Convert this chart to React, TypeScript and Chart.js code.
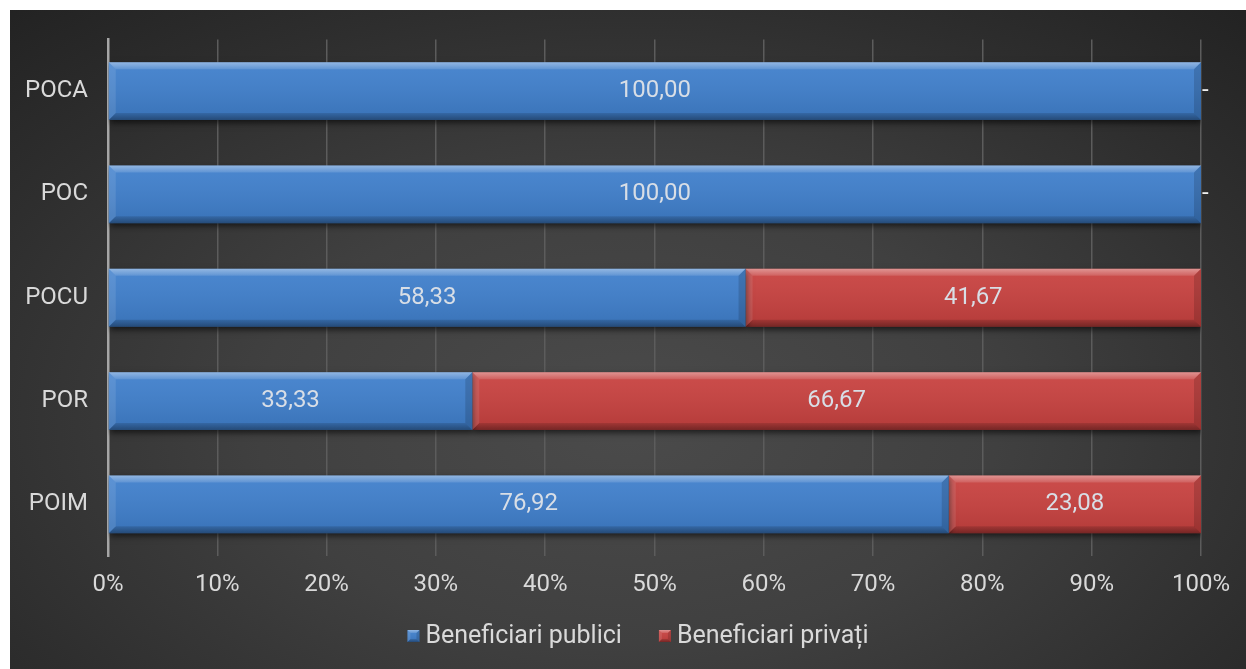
import React, { useEffect, useRef } from 'react';
import { Chart, registerables } from 'chart.js';

Chart.register(...registerables);

const categories = ['POCA', 'POC', 'POCU', 'POR', 'POIM'];
const publici = [100, 100, 58.33, 33.33, 76.92];
const privati = [0, 0, 41.67, 66.67, 23.08];
const seriesNames = ['Beneficiari publici', 'Beneficiari privați'];
const seriesColors = ['#3f7fcc', '#c8413f'];
const xTickLabels = ['0%', '10%', '20%', '30%', '40%', '50%', '60%', '70%', '80%', '90%', '100%'];

const FONT = 'Roboto';
const TEXT = '#d9d9d9';

function poly(ctx: CanvasRenderingContext2D, pts: number[][], fill: any) {
  ctx.beginPath();
  ctx.moveTo(pts[0][0], pts[0][1]);
  for (let i = 1; i < pts.length; i++) ctx.lineTo(pts[i][0], pts[i][1]);
  ctx.closePath();
  ctx.fillStyle = fill;
  ctx.fill();
}

function bevel(ctx: CanvasRenderingContext2D, l: number, t: number, r: number, b: number, w: number) {
  const g = ctx.createLinearGradient(0, t, 0, b);
  g.addColorStop(0, 'rgba(255,255,255,0.06)');
  g.addColorStop(1, 'rgba(0,0,0,0.10)');
  ctx.fillStyle = g;
  ctx.fillRect(l, t, r - l, b - t);
  const gt = ctx.createLinearGradient(0, t, 0, t + w);
  gt.addColorStop(0, 'rgba(255,255,255,0.40)');
  gt.addColorStop(1, 'rgba(255,255,255,0.12)');
  poly(ctx, [[l, t], [r, t], [r - w, t + w], [l + w, t + w]], gt);
  const gb = ctx.createLinearGradient(0, b - w, 0, b);
  gb.addColorStop(0, 'rgba(0,0,0,0.12)');
  gb.addColorStop(1, 'rgba(0,0,0,0.35)');
  poly(ctx, [[l, b], [r, b], [r - w, b - w], [l + w, b - w]], gb);
  poly(ctx, [[l, t], [l + w, t + w], [l + w, b - w], [l, b]], 'rgba(255,255,255,0.10)');
  poly(ctx, [[r, t], [r - w, t + w], [r - w, b - w], [r, b]], 'rgba(0,0,0,0.14)');
}

const shadowPlugin = {
  id: 'barShadow',
  beforeDatasetDraw(chart: any) {
    const ctx = chart.ctx;
    ctx.save();
    ctx.shadowColor = 'rgba(0,0,0,0.6)';
    ctx.shadowBlur = 6;
    ctx.shadowOffsetX = 1;
    ctx.shadowOffsetY = 3;
  },
  afterDatasetDraw(chart: any) {
    chart.ctx.restore();
  },
};

const bevelPlugin = {
  id: 'bevel',
  afterDatasetsDraw(chart: any) {
    const ctx = chart.ctx;
    ctx.save();
    chart.data.datasets.forEach((ds: any, di: number) => {
      const meta = chart.getDatasetMeta(di);
      meta.data.forEach((el: any) => {
        const { x, y, base, height } = el.getProps(['x', 'y', 'base', 'height'], true);
        const l = Math.min(x, base);
        const r = Math.max(x, base);
        if (r - l < 1) return;
        bevel(ctx, l, y - height / 2, r, y + height / 2, 7);
      });
    });
    ctx.font = `24px ${FONT}`;
    ctx.textBaseline = 'middle';
    chart.data.datasets.forEach((ds: any, di: number) => {
      const meta = chart.getDatasetMeta(di);
      meta.data.forEach((el: any, i: number) => {
        const v = ds.data[i];
        const { x, y, base } = el.getProps(['x', 'y', 'base'], true);
        if (v === 0) {
          ctx.fillStyle = '#f0f0f0';
          ctx.textAlign = 'left';
          ctx.fillText('-', x + 1, y);
          return;
        }
        ctx.fillStyle = '#d8dee6';
        ctx.textAlign = 'center';
        ctx.fillText(v.toFixed(2).replace('.', ','), (x + base) / 2, y);
      });
    });
    ctx.restore();
  },
};

const legendPlugin = {
  id: 'customLegend',
  afterDraw(chart: any) {
    const ctx = chart.ctx;
    ctx.save();
    ctx.font = `25px ${FONT}`;
    ctx.textBaseline = 'middle';
    ctx.textAlign = 'left';
    const box = 12;
    const gapText = 6;
    const gapItem = 37;
    const items = chart.data.datasets.map((ds: any) => ({
      label: ds.label,
      color: ds.backgroundColor,
      w: ctx.measureText(ds.label).width,
    }));
    const total = items.reduce((s: number, it: any) => s + box + gapText + it.w, 0) + gapItem * (items.length - 1);
    let x = chart.width / 2 + 10 - total / 2;
    const y = chart.height - 33;
    items.forEach((it: any) => {
      ctx.fillStyle = it.color;
      ctx.fillRect(x, y - box / 2, box, box);
      bevel(ctx, x, y - box / 2, x + box, y + box / 2, 3);
      ctx.fillStyle = TEXT;
      ctx.fillText(it.label, x + box + gapText, y + 1);
      x += box + gapText + it.w + gapItem;
    });
    ctx.restore();
  },
};

export default function App() {
  const ref = useRef<HTMLCanvasElement>(null);

  useEffect(() => {
    if (!ref.current) return;
    const chart = new Chart(ref.current, {
      type: 'bar',
      data: {
        labels: categories,
        datasets: [
          { label: seriesNames[0], data: publici, backgroundColor: seriesColors[0], borderWidth: 0 },
          { label: seriesNames[1], data: privati, backgroundColor: seriesColors[1], borderWidth: 0 },
        ],
      },
      options: {
        indexAxis: 'y',
        animation: false,
        responsive: true,
        maintainAspectRatio: false,
        categoryPercentage: 1,
        barPercentage: 0.56,
        layout: { padding: { top: 29.5, right: 45, left: 0, bottom: 53 } },
        plugins: {
          legend: { display: false },
          tooltip: { enabled: false },
        },
        scales: {
          x: {
            stacked: true,
            min: 0,
            max: 100,
            afterFit: (s: any) => { s.height = 60; },
            ticks: {
              stepSize: 10,
              color: TEXT,
              font: { family: FONT, size: 24 },
              padding: 15,
              callback: (_v: any, i: number) => xTickLabels[i],
            },
            grid: { color: '#5c5c5c', lineWidth: 1.5, drawTicks: false },
            border: { display: false },
          },
          y: {
            stacked: true,
            afterFit: (s: any) => {
              s.width = 98;
              s.paddingTop = 0;
              s.paddingBottom = 0;
            },
            ticks: {
              color: TEXT,
              font: { family: FONT, size: 24 },
              padding: 20,
            },
            grid: { display: false, drawTicks: false },
            border: { display: true, color: '#a6a6a6', width: 2.5 },
          },
        },
      },
      plugins: [shadowPlugin, bevelPlugin, legendPlugin],
    });
    return () => chart.destroy();
  }, []);

  return (
    <div
      style={{
        position: 'absolute',
        left: 10,
        top: 10,
        width: 1236,
        height: 659,
        background:
          'radial-gradient(ellipse 75% 85% at 50% 62%, #4b4b4b 0%, #404040 40%, #2e2e2e 75%, #222222 100%)',
      }}
    >
      <canvas ref={ref} />
    </div>
  );
}
